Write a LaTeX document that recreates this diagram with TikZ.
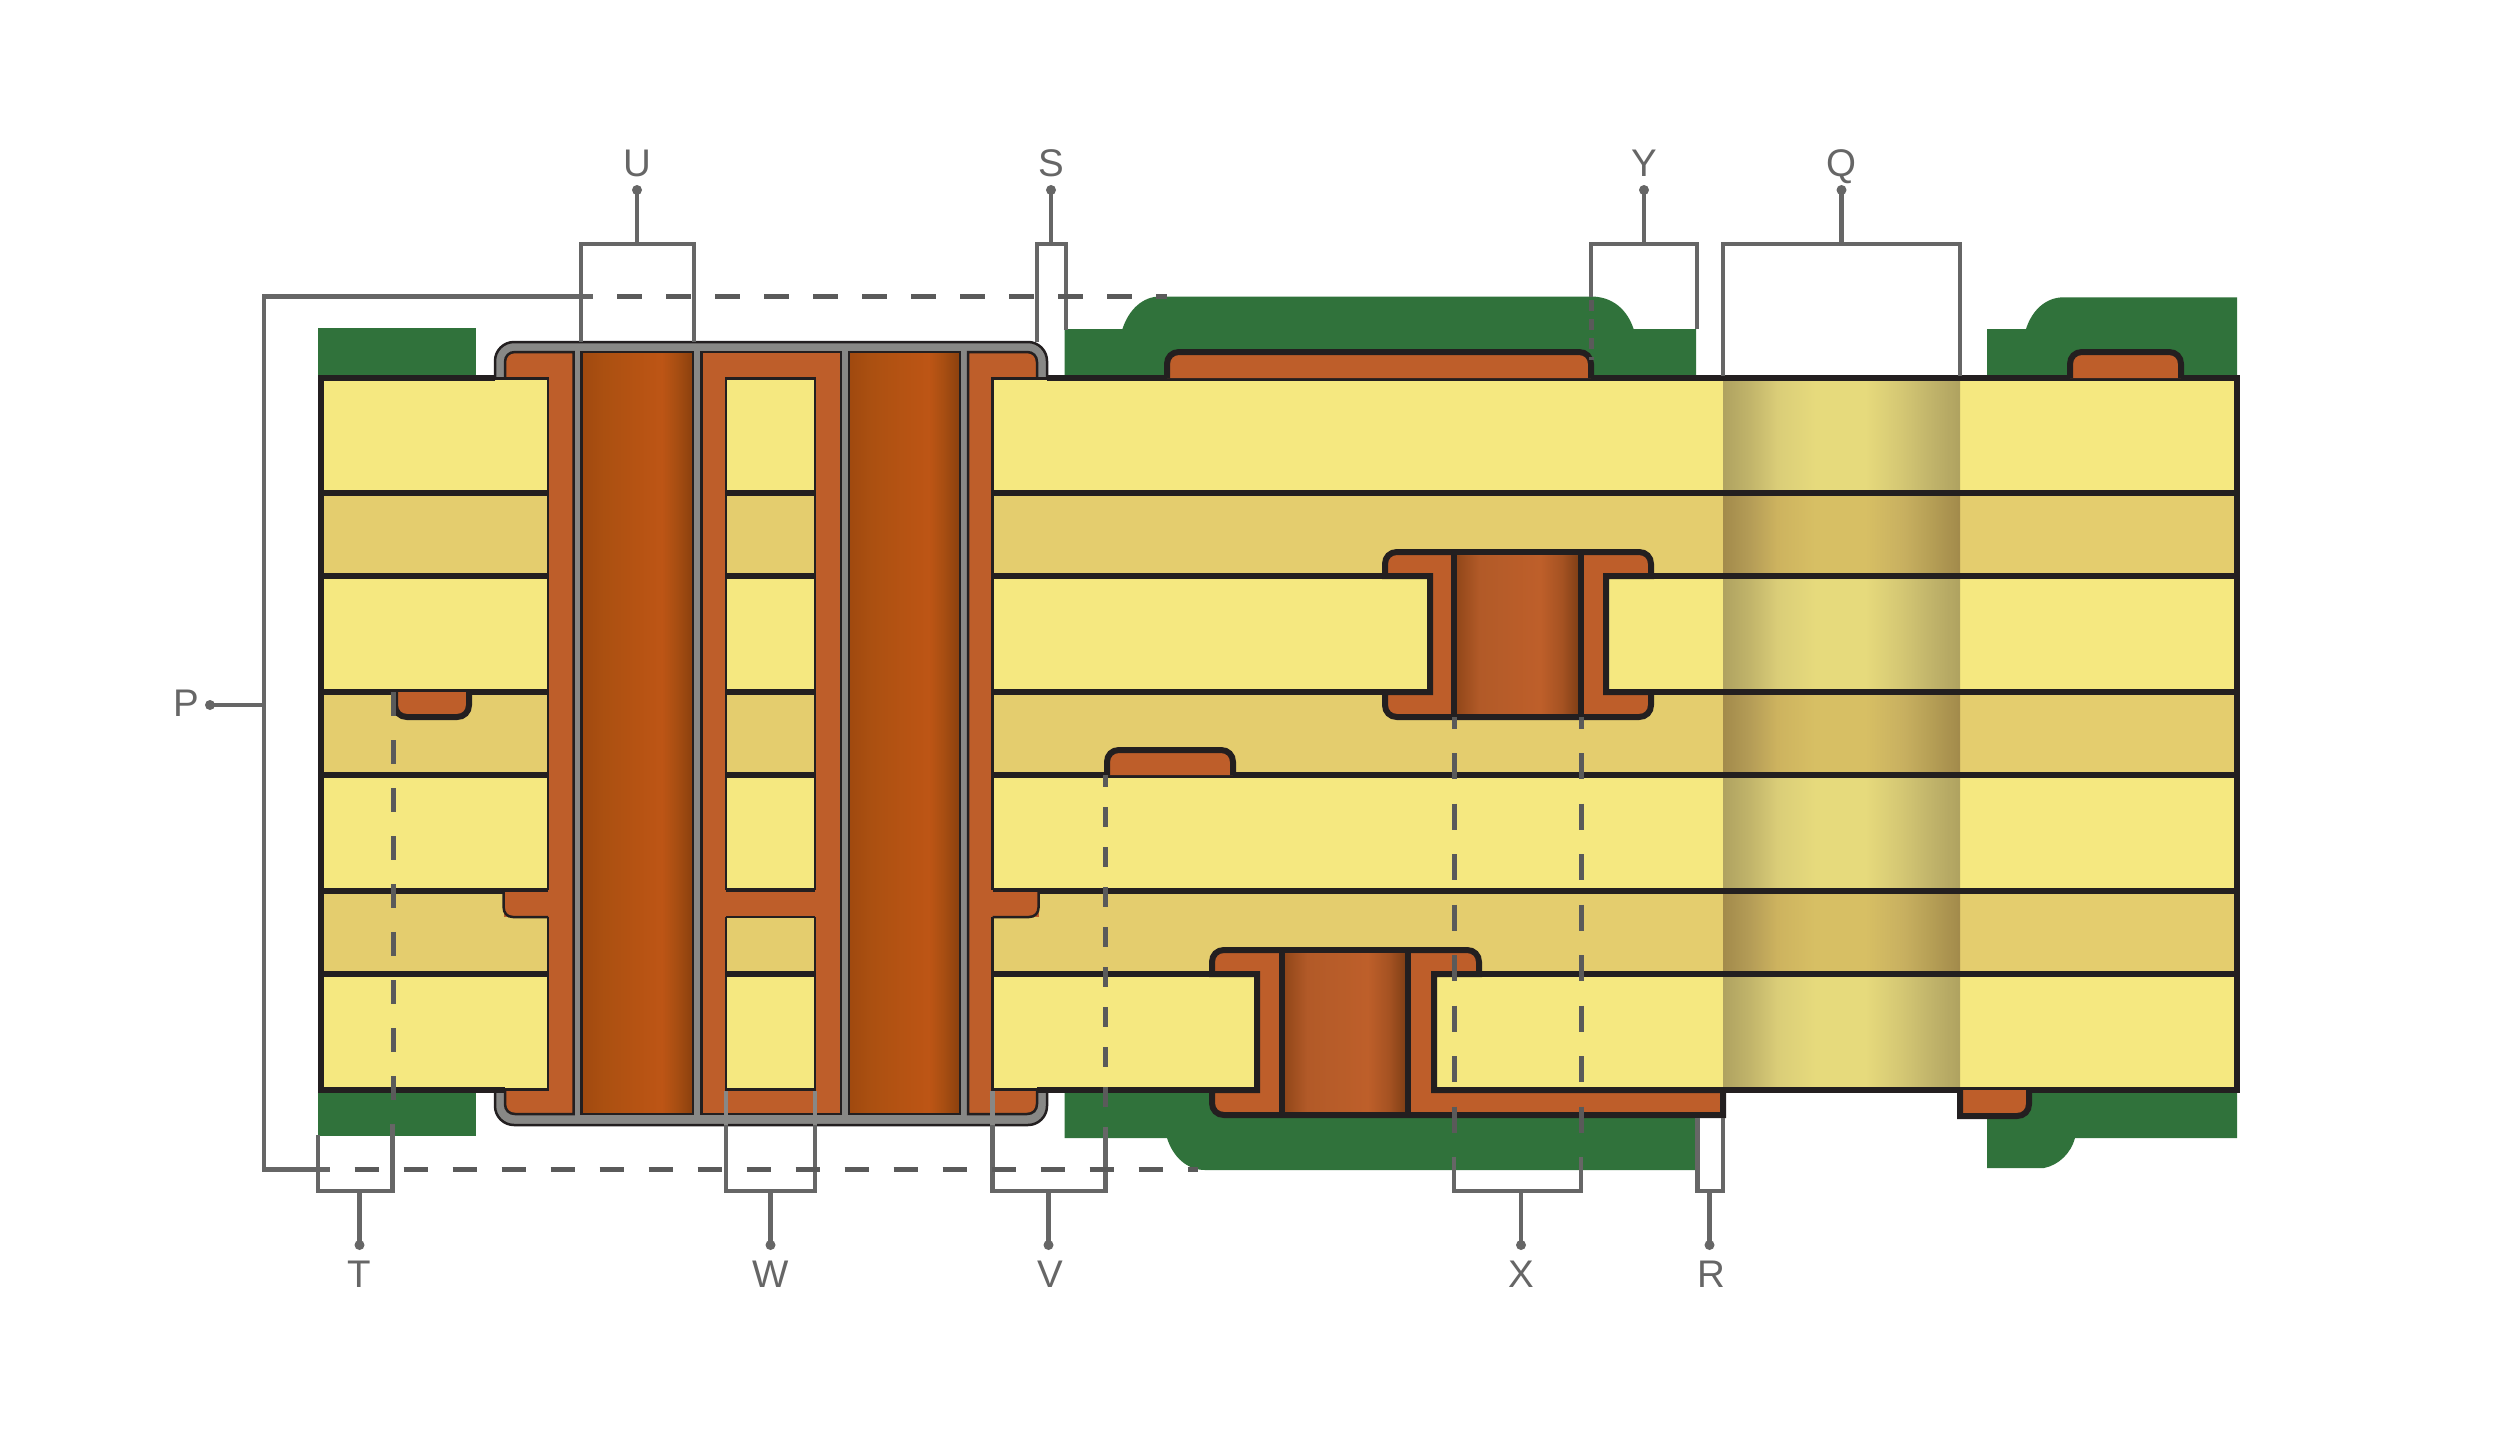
\documentclass[tikz,border=0pt]{standalone}
\usepackage{fontspec}
\setmainfont{Liberation Sans}
\usetikzlibrary{calc}
\definecolor{cyel}{HTML}{F5E880}
\definecolor{ctan}{HTML}{E4CD6E}
\definecolor{cgrn}{HTML}{30723B}
\definecolor{ccop}{HTML}{BE5E2A}
\definecolor{cdk}{HTML}{231F20}
\definecolor{cgry}{HTML}{888886}
\definecolor{clead}{HTML}{666666}
\definecolor{cdash}{HTML}{5A5A5A}
\definecolor{qa0}{HTML}{AFA260}\definecolor{qa1}{HTML}{C2B56B}\definecolor{qa2}{HTML}{DACD78}\definecolor{qa3}{HTML}{E6DA7C}\definecolor{qa4}{HTML}{D3C673}
\definecolor{qb0}{HTML}{A28A4B}\definecolor{qb1}{HTML}{B59D57}\definecolor{qb2}{HTML}{CDB35F}\definecolor{qb3}{HTML}{D7BF64}\definecolor{qb4}{HTML}{C8B060}\definecolor{qb5}{HTML}{B7A056}
\definecolor{da}{HTML}{A0490F}\definecolor{db}{HTML}{AB5011}\definecolor{dc}{HTML}{B65313}\definecolor{dd}{HTML}{BD5515}\definecolor{de}{HTML}{A84E12}\definecolor{df}{HTML}{8A400E}
\definecolor{ba}{HTML}{8E4518}\definecolor{bb}{HTML}{B25A28}\definecolor{bc}{HTML}{BE5F2A}\definecolor{bd}{HTML}{A55222}\definecolor{be}{HTML}{7A3C14}
\pgfdeclarehorizontalshading{qlight}{100bp}{color(0bp)=(qa0);color(25bp)=(qa0);color(30.9bp)=(qa1);color(36.5bp)=(qa2);color(44.5bp)=(qa3);color(55bp)=(qa3);color(63bp)=(qa4);color(68.5bp)=(qa1);color(75bp)=(qa0);color(100bp)=(qa0)}
\pgfdeclarehorizontalshading{qdark}{100bp}{color(0bp)=(qb0);color(25bp)=(qb0);color(30.9bp)=(qb1);color(36.5bp)=(qb2);color(44.5bp)=(qb3);color(55bp)=(qb3);color(63bp)=(qb4);color(68.5bp)=(qb5);color(75bp)=(qb0);color(100bp)=(qb0)}
\pgfdeclarehorizontalshading{drillmain}{100bp}{color(0bp)=(da);color(25bp)=(da);color(35bp)=(db);color(50bp)=(dc);color(61bp)=(dd);color(67.5bp)=(de);color(75bp)=(df);color(100bp)=(df)}
\pgfdeclarehorizontalshading{drillburied}{100bp}{color(0bp)=(ba);color(25bp)=(ba);color(35bp)=(bb);color(59bp)=(bc);color(67.5bp)=(bd);color(75bp)=(be);color(100bp)=(be)}
\tikzset{
  thickln/.style={draw=cdk,line width=6pt},
  thinln/.style={draw=cdk,line width=2.5pt},
  padln/.style={fill=ccop,draw=cdk,line width=6pt},
  metal/.style={fill=ccop,draw=cdk,line width=2.5pt},
  leader/.style={draw=clead,line width=4.6pt},
  leaderhi/.style={draw=cgry,line width=4.6pt},
  dashA/.style={draw=cdash,line width=5pt,dash pattern=on 24.5pt off 24.5pt},
  dashB/.style={draw=cdash,line width=5pt,dash pattern=on 24pt off 24pt},
  dashC/.style={draw=cdash,line width=5pt,dash pattern=on 20pt off 20pt,dash phase=8pt},
  dashD/.style={draw=cdash,line width=5pt,dash pattern=on 26pt off 24.5pt,dash phase=14.5pt},
  dashE/.style={draw=cdash,line width=5pt,dash pattern=on 11pt off 8pt},
  lab/.style={text=clead,anchor=base,inner sep=0pt,font=\fontsize{38.5}{46}\selectfont},
  dotmark/.style={fill=clead},
}
\newcommand{\BlockFill}[2]{%
  \fill[cyel] (#1,378) rectangle (#2,493);
  \fill[ctan] (#1,493) rectangle (#2,576);
  \fill[cyel] (#1,576) rectangle (#2,692);
  \fill[ctan] (#1,692) rectangle (#2,775);
  \fill[cyel] (#1,775) rectangle (#2,891);
  \fill[ctan] (#1,891) rectangle (#2,974);
  \fill[cyel] (#1,974) rectangle (#2,1090);}
\newcommand{\BlockLines}[2]{%
  \foreach \yy in {493,576,692,775,891,974}{\draw[thickln] (#1,\yy) -- (#2,\yy);}}
\begin{document}
\begin{tikzpicture}[x=1pt,y=-1pt]
\useasboundingbox (0,0) rectangle (2500,1435);
\fill[white] (0,0) rectangle (2500,1435);
% solder mask
\fill[cgrn] (318.3,328) rectangle (475.5,380);
\fill[cgrn] (318.3,1088) rectangle (475.5,1136);
\fill[cgrn] (1064.6,380) -- (1064.6,329) -- (1122.4,329) .. controls (1129,309) and (1143,296.5) .. (1160,296.5) -- (1591,296.5) .. controls (1612,296.5) and (1627,309) .. (1633.6,329) -- (1696,329) -- (1696,380) -- cycle;
\fill[cgrn] (1064.6,1088) -- (1064.6,1138) -- (1167,1138) .. controls (1173,1157) and (1187,1170) .. (1205,1170) -- (1696,1170) -- (1696,1088) -- cycle;
\fill[cgrn] (1987,380) -- (1987,329) -- (2026,329) .. controls (2032,310) and (2046,297.3) .. (2063.6,297.3) -- (2237,297.3) -- (2237,380) -- cycle;
\fill[cgrn] (1987,1088) -- (1987,1168) -- (2044,1168) .. controls (2059,1165) and (2071,1153) .. (2075,1138) -- (2237,1138) -- (2237,1088) -- cycle;
% plated through vias
\filldraw[fill=cgry,draw=cdk,line width=2.5pt,rounded corners=19pt] (495,342) rectangle (1047,1125);
\path[metal] (573.6,352) -- (515,352) .. controls (509,352) and (505,356) .. (505,362) -- (505,1104) .. controls (505,1110) and (509,1114) .. (515,1114) -- (573.6,1114) -- cycle;
\path[metal] (701.5,352) rectangle (841,1114);
\path[metal] (968,352) -- (1027,352) .. controls (1033,352) and (1037,356) .. (1037,362) -- (1037,1104) .. controls (1037,1110) and (1033,1114) .. (1027,1114) -- (968,1114) -- cycle;
\path[draw=cdk,line width=2.5pt,shading=drillmain] (581.7,352) rectangle (693,1114);
\path[draw=cdk,line width=2.5pt,shading=drillmain] (849,352) rectangle (960,1114);
% laminate
\BlockFill{320.5}{548}
\BlockFill{726}{815}
\BlockFill{992.5}{2237}
\fill[shading=qlight] (1723,378) rectangle (1960,493);
\fill[shading=qdark] (1723,493) rectangle (1960,576);
\fill[shading=qlight] (1723,576) rectangle (1960,692);
\fill[shading=qdark] (1723,692) rectangle (1960,775);
\fill[shading=qlight] (1723,775) rectangle (1960,891);
\fill[shading=qdark] (1723,891) rectangle (1960,974);
\fill[shading=qlight] (1723,974) rectangle (1960,1090);
\BlockLines{320.5}{548}
\BlockLines{726}{815}
\BlockLines{992.5}{2237}
\draw[thinln] (495,378.5) -- (548,378.5) -- (548,1089.5) -- (505,1089.5);
\draw[thinln] (726,378.5) rectangle (815,1089.5);
\draw[thinln] (1047,378.5) -- (992.5,378.5) -- (992.5,1089.5) -- (1037,1089.5);
\draw[thickln] (495,377.5) -- (318,377.5);
\draw[thickln] (505,1090) -- (318,1090);
\draw[thickln] (320.5,375) -- (320.5,1093);
\draw[thickln] (1047,377.5) -- (2240,377.5);
\draw[thickln] (1037,1090) -- (2240,1090);
\draw[thickln] (2237,375) -- (2237,1093);
% inner-layer lands on the through vias
\fill[ccop] (503.6,890) rectangle (552,917);
\draw[thinln] (503.6,890) -- (503.6,907) .. controls (503.6,913) and (507,917) .. (513,917) -- (548,917);
\fill[ccop] (724,890) rectangle (817,917);
\draw[thinln] (726,890.5) -- (815,890.5);
\draw[thinln] (726,917) -- (815,917);
\fill[ccop] (989,890) rectangle (1038.6,917);
\draw[thinln] (1038.6,890) -- (1038.6,907) .. controls (1038.6,913) and (1035,917) .. (1029,917) -- (992.5,917);
\draw[thinln] (548,890.5) -- (503.6,890.5);
\draw[thinln] (992.5,890.5) -- (1038.6,890.5);
% buried vias
\path[padln] (1385,576) -- (1385,564) .. controls (1385,557) and (1390,552) .. (1397,552) -- (1639,552) .. controls (1646,552) and (1651,557) .. (1651,564) -- (1651,576) -- (1606,576) -- (1606,692) -- (1651,692) -- (1651,705) .. controls (1651,712) and (1646,717) .. (1639,717) -- (1397,717) .. controls (1390,717) and (1385,712) .. (1385,705) -- (1385,692) -- (1430,692) -- (1430,576) -- cycle;
\fill[shading=drillburied] (1454,552) rectangle (1581,717);
\draw[draw=cdk,line width=5.5pt] (1454,552) -- (1454,717);
\draw[draw=cdk,line width=5.5pt] (1581,552) -- (1581,717);
\draw[thickln] (1397,552) -- (1639,552);
\draw[thickln] (1397,717) -- (1639,717);
\path[padln] (1212,974) -- (1212,962) .. controls (1212,955) and (1217,950) .. (1224,950) -- (1467,950) .. controls (1474,950) and (1479,955) .. (1479,962) -- (1479,974) -- (1434,974) -- (1434,1090) -- (1723,1090) -- (1723,1115) -- (1224,1115) .. controls (1217,1115) and (1212,1110) .. (1212,1103) -- (1212,1090) -- (1257,1090) -- (1257,974) -- cycle;
\fill[shading=drillburied] (1282,950) rectangle (1408,1115);
\draw[draw=cdk,line width=5.5pt] (1282,950) -- (1282,1115);
\draw[draw=cdk,line width=5.5pt] (1408,950) -- (1408,1115);
\draw[thickln] (1224,950) -- (1467,950);
\draw[thickln] (1224,1115) -- (1723,1115);
% surface and inner traces
\path[padln] (1167,378) -- (1167,364) .. controls (1167,357) and (1172,352) .. (1179,352) -- (1579,352) .. controls (1586,352) and (1591,357) .. (1591,364) -- (1591,378);
\path[padln] (2070,378) -- (2070,364) .. controls (2070,357) and (2075,352) .. (2082,352) -- (2169,352) .. controls (2176,352) and (2181,357) .. (2181,364) -- (2181,378);
\path[padln] (1960,1090) -- (1960,1116) -- (2017,1116) .. controls (2024,1116) and (2029,1111) .. (2029,1104) -- (2029,1090);
\path[padln] (1107,775) -- (1107,762) .. controls (1107,755) and (1112,750) .. (1119,750) -- (1221,750) .. controls (1228,750) and (1233,755) .. (1233,762) -- (1233,775);
\path[padln] (395,692) -- (395,705) .. controls (395,712) and (400,717) .. (407,717) -- (457,717) .. controls (464,717) and (469,712) .. (469,705) -- (469,692);
% leader coordinates
\coordinate (dU) at (637,190); \coordinate (bU) at (637,244);
\coordinate (dS) at (1051,190); \coordinate (bS) at (1051,244);
\coordinate (dY) at (1644,190); \coordinate (bY) at (1644,244);
\coordinate (dQ) at (1841.5,190); \coordinate (bQ) at (1841.5,244);
\coordinate (dP) at (210,705); \coordinate (bP) at (264,705);
\coordinate (dT) at (359.5,1245); \coordinate (bT) at (359.5,1191);
\coordinate (dW) at (770.5,1245); \coordinate (bW) at (770.5,1191);
\coordinate (dV) at (1048.5,1245); \coordinate (bV) at (1048.5,1191);
\coordinate (dX) at (1521,1245); \coordinate (bX) at (1521,1191);
\coordinate (dR) at (1709.5,1245); \coordinate (bR) at (1709.5,1191);
\foreach \n in {U,S,Y,Q,P,T,W,V,X,R}{
  \draw[leader] (d\n) -- (b\n);
  \fill[dotmark] (d\n) circle (5pt);
}
% labels
\node[lab] (labU) at (637,176.5) {U};
\node[lab] (labS) at (1051,176.5) {S};
\node[lab] (labY) at (1644,176.5) {Y};
\node[lab] (labQ) at (1841,176.5) {Q};
\node[lab] (labP) at (186,716) {P};
\node[lab] (labT) at (359.5,1287.5) {T};
\node[lab] (labW) at (771,1287.5) {W};
\node[lab] (labV) at (1050,1287.5) {V};
\node[lab] (labX) at (1521,1287.5) {X};
\node[lab] (labR) at (1711,1287.5) {R};
% brackets
\draw[leader] (581,342) -- (581,244) -- (694,244) -- (694,342);
\draw[leader] (1037,342) -- (1037,244) -- (1066,244) -- (1066,330);
\draw[leader] (1591,296.5) -- (1591,244) -- (1697,244) -- (1697,329);
\draw[leader] (1723,376) -- (1723,244) -- (1960,244) -- (1960,376);
\draw[leader] (318,1135) -- (318,1191) -- (392.5,1191) -- (392.5,1124);
\draw[leaderhi] (726,1091) -- (726,1125);
\draw[leaderhi] (815,1091) -- (815,1125);
\draw[leaderhi] (992.5,1091) -- (992.5,1125);
\draw[leader] (726,1125) -- (726,1191) -- (815,1191) -- (815,1125);
\draw[leader] (992.5,1125) -- (992.5,1191) -- (1105.4,1191) -- (1105.4,1127);
\draw[leader] (1454,1156.5) -- (1454,1191) -- (1581,1191) -- (1581,1156.5);
\draw[leader] (1697.4,1118) -- (1697.4,1191) -- (1723,1191) -- (1723,1118);
% P bracket
\draw[leader] (592.5,296.5) -- (264,296.5) -- (264,1169.5) -- (330,1169.5);
\draw[dashA] (617,296.5) -- (1167,296.5);
\draw[dashA] (354.6,1169.5) -- (1198,1169.5);
% dashed extensions
\draw[dashB] (393,692) -- (393,1124);
\draw[dashC] (1105.4,775) -- (1105.4,1107);
\draw[dashD] (1454,717) -- (1454,1132.5);
\draw[dashD] (1581,717) -- (1581,1132.5);
\draw[dashE] (1591,300) -- (1591,360);
\end{tikzpicture}
\end{document}
